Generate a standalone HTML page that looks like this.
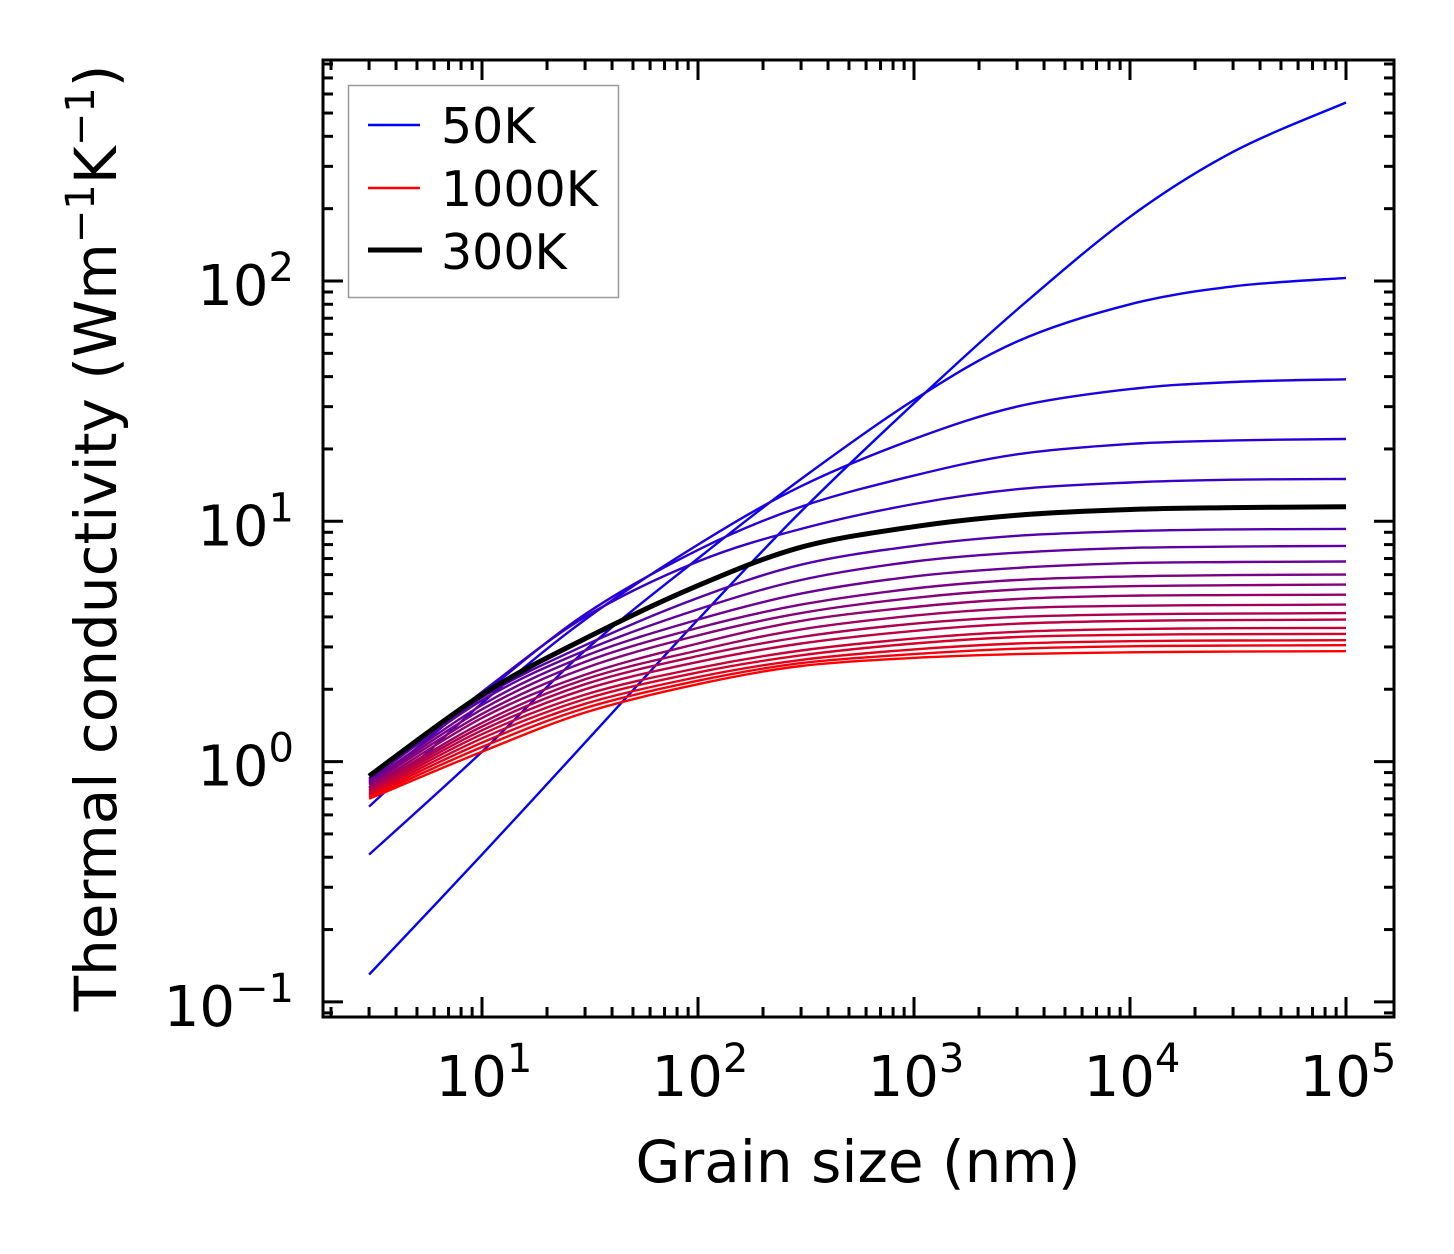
<!DOCTYPE html>
<html><head><meta charset="utf-8"><style>
html,body{margin:0;padding:0;background:#fff;}
svg{display:block;font-family:"DejaVu Sans","Liberation Sans",sans-serif;}
</style></head><body>
<svg id="chart" width="1454" height="1254" viewBox="0 0 1454 1254">
<g id="curves"></g>
<rect x="323" y="60" width="1071" height="957" fill="none" stroke="#000" stroke-width="3"/>
<g id="ticks"></g>
<g id="labels" font-size="56" fill="#000"></g>
<text x="858" y="1182" font-size="58" text-anchor="middle">Grain size (nm)</text>
<text transform="translate(116,538) rotate(-90)" font-size="58" text-anchor="middle">Thermal conductivity (Wm<tspan dy="-22" font-size="40">−1</tspan><tspan dy="22">K</tspan><tspan dy="-22" font-size="40">−1</tspan><tspan dy="22">)</tspan></text>
<g>
<rect x="348.5" y="85.5" width="270" height="212" fill="#fff" stroke="#999" stroke-width="1.5"/>
<line x1="368" y1="125" x2="420" y2="125" stroke="#0000ff" stroke-width="2.5"/>
<text x="441" y="143" font-size="49">50K</text>
<line x1="368" y1="188" x2="420" y2="188" stroke="#ff0000" stroke-width="2.5"/>
<text x="441" y="206" font-size="49">1000K</text>
<line x1="368" y1="250" x2="422" y2="250" stroke="#000" stroke-width="5"/>
<text x="441" y="269" font-size="49">300K</text>
</g>
</svg>
<script>
const grainSizes = [3,10,30,100,300,1000,3000,10000,30000,100000];
const temperatures = [50,100,150,200,250,300,350,400,450,500,550,600,650,700,750,800,850,900,950,1000];
const k50 = [0.13,0.41,1.2,3.9,11,31,76,185,345,553];
const k100 = [0.41,1.1,2.9,7,15,32,56,80,95,103];
const k150 = [0.65,1.75,3.9,8,14,22,30,35.5,38,39];
const k200 = [0.78,1.9,4.1,7.6,11.5,15.5,19,21,21.7,22];
const k250 = [0.83,1.95,4,6.8,9.3,11.8,13.6,14.5,14.9,15];
const k300 = [0.87,1.9,3.25,5.4,7.8,9.5,10.6,11.2,11.4,11.5];
const k350 = [0.85,1.85,3.05,4.8,6.6,7.9,8.7,9.1,9.25,9.3];
const k400 = [0.84,1.8,2.9,4.3,5.7,6.8,7.4,7.75,7.85,7.9];
const k450 = [0.82,1.72,2.75,3.9,5.0,5.9,6.4,6.7,6.77,6.8];
const k500 = [0.81,1.65,2.6,3.6,4.5,5.25,5.7,5.9,5.97,6.0];
const k550 = [0.80,1.58,2.45,3.35,4.15,4.8,5.2,5.37,5.42,5.45];
const k600 = [0.78,1.52,2.3,3.1,3.85,4.4,4.75,4.9,4.93,4.95];
const k650 = [0.77,1.45,2.2,2.9,3.55,4.05,4.35,4.45,4.48,4.5];
const k700 = [0.76,1.4,2.1,2.75,3.3,3.75,4.0,4.1,4.13,4.15];
const k750 = [0.75,1.35,2.0,2.6,3.1,3.5,3.75,3.85,3.88,3.9];
const k800 = [0.74,1.3,1.9,2.45,2.9,3.25,3.47,3.56,3.59,3.6];
const k850 = [0.73,1.25,1.82,2.35,2.77,3.1,3.3,3.37,3.39,3.4];
const k900 = [0.72,1.2,1.74,2.25,2.65,2.93,3.1,3.17,3.19,3.2];
const k950 = [0.71,1.15,1.67,2.17,2.57,2.8,2.95,3.02,3.04,3.05];
const k1000 = [0.70,1.1,1.6,2.1,2.5,2.7,2.8,2.85,2.87,2.88];
const xTickExps = [1,2,3,4,5];
const yTickExps = [-1,0,1,2];
const highlightTemp = 300;

const series = [k50,k100,k150,k200,k250,k300,k350,k400,k450,k500,k550,k600,k650,k700,k750,k800,k850,k900,k950,k1000];
const NS = "http://www.w3.org/2000/svg";
const X0 = 482, XD = 216, Y0 = 281, YD = 240.3;
function xs(v){ return X0 + (Math.log10(v) - 1) * XD; }
function ys(v){ return Y0 - (Math.log10(v) - 2) * YD; }
function pathFor(vals){
  const p = grainSizes.map((g,i)=>[xs(g), ys(vals[i])]);
  let d = "M" + p[0][0].toFixed(1) + "," + p[0][1].toFixed(1);
  for(let i=0;i<p.length-1;i++){
    const a = p[i-1]||p[i], b=p[i], c=p[i+1], e=p[i+2]||p[i+1];
    const c1=[b[0]+(c[0]-a[0])/6, b[1]+(c[1]-a[1])/6];
    const c2=[c[0]-(e[0]-b[0])/6, c[1]-(e[1]-b[1])/6];
    d += " C"+c1[0].toFixed(1)+","+c1[1].toFixed(1)+" "+c2[0].toFixed(1)+","+c2[1].toFixed(1)+" "+c[0].toFixed(1)+","+c[1].toFixed(1);
  }
  return d;
}
const cg = document.getElementById("curves");
let blackPath = null;
series.forEach((vals,i)=>{
  const t = i/(series.length-1);
  const el = document.createElementNS(NS,"path");
  el.setAttribute("d", pathFor(vals));
  el.setAttribute("fill","none");
  const isH = temperatures[i] === highlightTemp;
  el.setAttribute("stroke", isH ? "#000" : "rgb("+Math.round(255*t)+",0,"+Math.round(255*(1-t))+")");
  el.setAttribute("stroke-width", isH ? "5" : "2.4");
  
  
  if(isH) blackPath = el; else cg.appendChild(el);
});
if(blackPath) cg.appendChild(blackPath);

const tg = document.getElementById("ticks");
function tick(x1,y1,x2,y2,name){
  const l = document.createElementNS(NS,"line");
  l.setAttribute("x1",x1); l.setAttribute("y1",y1); l.setAttribute("x2",x2); l.setAttribute("y2",y2);
  l.setAttribute("stroke","#000"); l.setAttribute("stroke-width","3");
  
  
  tg.appendChild(l);
}
const L=323,R=1394,T=60,B=1017;
for(let e=0;e<=5;e++){
  for(let m=1;m<=9;m++){
    const x = xs(m*Math.pow(10,e));
    if(x<L+2||x>R-2) continue;
    const len = m===1?20:10;
    tick(x,B,x,B-len,'x-tick'); tick(x,T,x,T+len,'x-tick-top');
  }
}
for(let e=-2;e<=2;e++){
  for(let m=1;m<=9;m++){
    const y = ys(m*Math.pow(10,e));
    if(y<T+2||y>B-2) continue;
    const len = m===1?20:10;
    tick(L,y,L+len,y,'y-tick'); tick(R,y,R-len,y,'y-tick-right');
  }
}
const lg = document.getElementById("labels");
xTickExps.forEach(e=>{
  const t = document.createElementNS(NS,"text");
  t.setAttribute("x", xs(Math.pow(10,e)) + 2);
  t.setAttribute("y", 1096);
  t.setAttribute("text-anchor","middle");
  t.innerHTML = '10<tspan dy="-24" font-size="40">'+e+'</tspan>';
  
  
  lg.appendChild(t);
});
yTickExps.forEach(e=>{
  const t = document.createElementNS(NS,"text");
  t.setAttribute("x", 294);
  t.setAttribute("y", ys(Math.pow(10,e)) + 24);
  t.setAttribute("text-anchor","end");
  t.innerHTML = '10<tspan dy="-24" font-size="40">'+(e<0?'−'+(-e):e)+'</tspan>';
  
  
  lg.appendChild(t);
});
</script>
</body></html>
